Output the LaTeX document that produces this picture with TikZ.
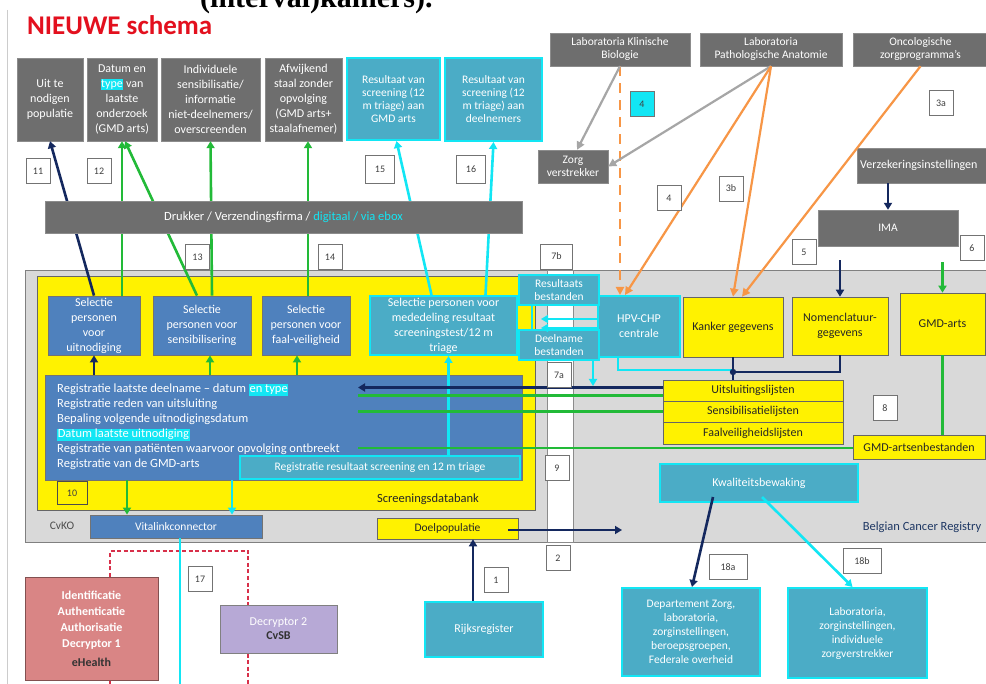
\documentclass[tikz,border=0pt]{standalone}
\usepackage{fontspec}
\setmainfont{Carlito}
\newfontfamily\headserif{Liberation Serif}
\usetikzlibrary{positioning,calc,arrows.meta}

\definecolor{cBoxGray}{HTML}{6E6E6E}
\definecolor{cTeal}{HTML}{4BACC6}
\definecolor{cCyan}{HTML}{12E6F4}
\definecolor{cSelBlue}{HTML}{4F81BD}
\definecolor{cRegBg}{HTML}{D9D9D9}
\definecolor{cNavy}{HTML}{14285E}
\definecolor{cGreen}{HTML}{22BA38}
\definecolor{cOrange}{HTML}{F79646}
\definecolor{cGrayLine}{HTML}{A6A6A6}
\definecolor{cRed}{HTML}{D8304A}
\definecolor{cHealth}{HTML}{D98585}
\definecolor{cDecr}{HTML}{B7A9D6}
\definecolor{cTitle}{HTML}{E3101E}
\definecolor{cBcr}{HTML}{1F3864}

\newcommand\bt{\fontsize{12}{15}\selectfont}
\newcommand\st{\fontsize{11.5}{13}\selectfont}
\newcommand\cyhl[1]{{\fboxsep=0.6pt\colorbox{cCyan}{#1}}}

\tikzset{
  graybox/.style={draw=black!45, fill=cBoxGray, text=white, align=center, font=\bt, inner sep=1pt},
  tealbox/.style={draw=cCyan, line width=2pt, fill=cTeal, text=white, align=center, font=\bt, inner sep=1pt},
  selbox/.style={draw=black!55, line width=0.8pt, fill=cSelBlue, text=white, align=center, font=\bt, inner sep=1pt},
  yelbox/.style={draw=black!60, line width=0.6pt, fill=yellow, text=black!85, align=center, font=\bt, inner sep=1pt},
  numbox/.style={draw=black!55, fill=white, minimum width=24pt, minimum height=25pt, font=\fontsize{10}{12}\selectfont, text=black!75, inner sep=1pt},
  regtext/.style={anchor=base west, text=white, font=\fontsize{12.5}{15}\selectfont, inner sep=0pt},
  navyarr/.style={draw=cNavy, line width=2.6pt, -{Triangle[length=7pt,width=8pt]}},
  navyline/.style={draw=cNavy, line width=2.6pt},
  greenarr/.style={draw=cGreen, line width=2.6pt, -{Triangle[length=7pt,width=8pt]}},
  greenline/.style={draw=cGreen, line width=2.6pt},
  cyanarr/.style={draw=cCyan, line width=2.6pt, -{Triangle[length=7pt,width=8pt]}},
  cyanline/.style={draw=cCyan, line width=2.6pt},
  orangearr/.style={draw=cOrange, line width=2.2pt, -{Triangle[length=8pt,width=8pt]}},
  grayarr/.style={draw=cGrayLine, line width=2.2pt, -{Triangle[length=8pt,width=8pt]}},
  reddash/.style={draw=cRed, line width=1.2pt, dash pattern=on 4pt off 2.5pt},
}

\begin{document}
\begin{tikzpicture}[x=1pt,y=-1pt]
  \useasboundingbox (0,0) rectangle (986,684);
  \fill[white] (0,0) rectangle (986,684);
  \draw[black!20] (7,10) -- (7,684);

  % heading
  \node[anchor=base west, inner sep=0pt, font=\headserif\bfseries\fontsize{30}{32}\selectfont] (cuttext) at (200,8) {(interval)kamers).};
  \node[anchor=base west, inner sep=0pt, font=\bfseries\fontsize{27}{29}\selectfont, text=cTitle] (title) at (27,35) {NIEUWE schema};

  % regions: cancer registry, channel, screening database
  \node[draw=black!50, line width=0.8pt, fill=cRegBg, minimum width=967pt, minimum height=272pt, inner sep=0pt] (bcr) at (508.5,406) {};
  \node[draw=black!45, fill=white, minimum width=26pt, minimum height=272pt, inner sep=0pt] (channel) at (560,406) {};
  \node[draw=black!60, fill=yellow, minimum width=498pt, minimum height=234pt, inner sep=0pt] (sdb) at (286,393) {};
  \node[font=\fontsize{12.5}{14}\selectfont, text=black!85] (sdblabel) at (428,499) {Screeningsdatabank};
  \node[font=\fontsize{11.5}{14}\selectfont, text=black!70] (cvko) at (62,526) {CvKO};
  \node[font=\fontsize{12.5}{14}\selectfont, text=cBcr] (bcrlabel) at (922,527) {Belgian Cancer Registry};

  % top row of outputs
  \node[graybox, minimum width=66pt, minimum height=83pt] (popul) at (50,99.5) {Uit te\\nodigen\\populatie};
  \node[graybox, minimum width=70pt, minimum height=83pt] (datum) at (122,99.5) {Datum en\\\cyhl{type} van\\laatste\\onderzoek\\(GMD arts)};
  \node[graybox, minimum width=99pt, minimum height=83pt] (indiv) at (210.5,99.5) {Individuele\\sensibilisatie/\\informatie\\niet-deelnemers/\\overscreenden};
  \node[graybox, minimum width=77pt, minimum height=83pt] (afwijk) at (303.5,99.5) {Afwijkend\\staal zonder\\opvolging\\(GMD arts+\\staalafnemer)};
  \node[tealbox, font=\st, minimum width=93pt, minimum height=82pt] (resgmd) at (393.5,99) {Resultaat van\\screening (12\\m triage) aan\\GMD arts};
  \node[tealbox, font=\st, minimum width=97pt, minimum height=83pt] (resdeel) at (493.5,99.5) {Resultaat van\\screening (12\\m triage) aan\\deelnemers};

  % data sources
  \node[graybox, font=\st, minimum width=140pt, minimum height=33pt] (labkb) at (620,49.5) {Laboratoria Klinische\\Biologie};
  \node[graybox, font=\st, minimum width=142pt, minimum height=33pt] (labpa) at (771,49.5) {Laboratoria\\Pathologische Anatomie};
  \node[graybox, font=\st, minimum width=135pt, minimum height=33pt] (onco) at (920.5,49.5) {Oncologische\\zorgprogramma's};
  \node[graybox, font=\st, minimum width=70pt, minimum height=33pt] (zorg) at (573,166.5) {Zorg\\verstrekker};
  \node[graybox, minimum width=140pt, minimum height=35pt, text width=134pt, align=left, anchor=west] (verz) at (857,165.5) {Verzekeringsinstellingen};
  \node[graybox, font=\st, minimum width=140pt, minimum height=36pt] (ima) at (888,228) {IMA};

  % selection boxes
  \node[selbox, minimum width=92pt, minimum height=59pt] (seluit) at (94,325.5) {Selectie\\personen\\voor\\uitnodiging};
  \node[selbox, minimum width=98pt, minimum height=59pt] (selsens) at (202,325.5) {Selectie\\personen voor\\sensibilisering};
  \node[selbox, minimum width=88pt, minimum height=59pt] (selfaal) at (306,325.5) {Selectie\\personen voor\\faal-veiligheid};
  \node[tealbox, minimum width=147pt, minimum height=59pt] (selmed) at (443.5,325.5) {Selectie personen voor\\mededeling resultaat\\screeningstest/12 m\\triage};

  % registration block
  \node[selbox, minimum width=477pt, minimum height=105pt] (regbox) at (283.5,427.5) {};
  \node[regtext] (reg0) at (57,393) {Registratie laatste deelname -- datum \cyhl{en type}};
  \node[regtext] (reg1) at (57,408) {Registratie reden van uitsluiting};
  \node[regtext] (reg2) at (57,423) {Bepaling volgende uitnodigingsdatum};
  \node[regtext] (reg3) at (57,438) {\cyhl{Datum laatste uitnodiging}};
  \node[regtext] (reg4) at (57,453) {Registratie van patiënten waarvoor opvolging ontbreekt};
  \node[regtext] (reg5) at (57,468) {Registratie van de GMD-arts};
  \node[tealbox, font=\st, minimum width=280pt, minimum height=23pt] (regres) at (380,467.5) {Registratie resultaat screening en 12 m triage};

  \node[selbox, font=\st, minimum width=172pt, minimum height=23pt] (vital) at (176,526.5) {Vitalinkconnector};
  \node[yelbox, font=\st, minimum width=141pt, minimum height=21pt] (doel) at (447.5,528.5) {Doelpopulatie};

  % files and HPV-CHP
  \node[tealbox, minimum width=82pt, minimum height=61pt] (hpv) at (639,326.5) {HPV-CHP\\centrale};
  \node[tealbox, font=\st, minimum width=80pt, minimum height=30pt] (resbest) at (559,290) {Resultaats\\bestanden};
  \node[tealbox, font=\st, minimum width=80pt, minimum height=30pt] (deeln) at (559,345) {Deelname\\bestanden};

  % registry data
  \node[yelbox, minimum width=100pt, minimum height=60pt] (kanker) at (733,327) {Kanker gegevens};
  \node[yelbox, minimum width=96pt, minimum height=58pt] (nomen) at (840,326) {Nomenclatuur-\\gegevens};
  \node[yelbox, minimum width=85pt, minimum height=62pt] (gmd) at (942.5,324) {GMD-arts};
  \node[yelbox, minimum width=180pt, minimum height=21pt] (uitsl) at (753,390.5) {Uitsluitingslijsten};
  \node[yelbox, minimum width=180pt, minimum height=21pt] (sens) at (753,411.5) {Sensibilisatielijsten};
  \node[yelbox, minimum width=180pt, minimum height=22pt] (faal) at (753,433) {Faalveiligheidslijsten};
  \node[yelbox, minimum width=132pt, minimum height=24pt] (gmdbest) at (919,447) {GMD-artsenbestanden};
  \node[tealbox, minimum width=198pt, minimum height=38pt] (kwal) at (759,483) {Kwaliteitsbewaking};

  % bottom row
  \node[draw=black!40!cHealth, line width=1pt, fill=cHealth, text=white, align=center, font=\bfseries\fontsize{12}{16}\selectfont, minimum width=133pt, minimum height=103pt] (ehealth) at (91.5,628.5) {Identificatie\\Authenticatie\\Authorisatie\\Decryptor 1\\[3pt]\textcolor{black!80}{eHealth}};
  \node[draw=black!50, line width=1pt, fill=cDecr, text=white, align=center, font=\fontsize{12}{14}\selectfont, minimum width=117pt, minimum height=48pt] (decr) at (278.5,629) {Decryptor 2\\\textcolor{black!80}{\bfseries CvSB}};
  \node[tealbox, minimum width=118pt, minimum height=55pt] (rijks) at (484,629.5) {Rijksregister};
  \node[tealbox, font=\fontsize{11.5}{14}\selectfont, minimum width=138pt, minimum height=88pt] (dept) at (691,632) {Departement Zorg,\\laboratoria,\\zorginstellingen,\\beroepsgroepen,\\Federale overheid};
  \node[tealbox, font=\fontsize{11.5}{14}\selectfont, minimum width=139pt, minimum height=90pt] (labz) at (857.5,633) {Laboratoria,\\zorginstellingen,\\individuele\\zorgverstrekker};

  % links from the selection boxes to the top row (behind the printer bar)
  \draw[navyarr] (seluit.north) -- (popul.south);
  \draw[greenarr] ([xshift=28pt]seluit.north) -- (datum.south);
  \draw[greenarr] ([xshift=-5pt]selsens.north) -- ([xshift=3pt]datum.south);
  \draw[greenarr] ([xshift=10pt]selsens.north) -- (indiv.south);
  \draw[greenarr] ([xshift=2pt]selfaal.north) -- ([xshift=2pt]selfaal.north |- afwijk.south);
  \draw[cyanarr] ([xshift=-12pt]selmed.north) -- ([xshift=3pt]resgmd.south);
  \draw[cyanarr] ([xshift=42pt]selmed.north) -- (resdeel.south);

  \node[graybox, minimum width=477pt, minimum height=32pt, font=\fontsize{12.5}{15}\selectfont] (drukker) at (283.5,217) {Drukker / Verzendingsfirma / \textcolor{cCyan}{digitaal / via ebox}};

  % registration to selection
  \draw[navyarr] (seluit.south |- regbox.north) -- (seluit.south);
  \draw[greenarr] ([xshift=8pt]selsens.south |- regbox.north) -- ([xshift=8pt]selsens.south);
  \draw[greenarr] ([xshift=-9pt]selfaal.south |- regbox.north) -- ([xshift=-9pt]selfaal.south);
  \draw[cyanarr] ([xshift=5pt]selmed.south |- regres.north) -- ([xshift=5pt]selmed.south);
  \draw[greenarr] ([xshift=-49pt]vital.north |- regbox.south) -- ([xshift=-49pt]vital.north);
  \draw[cyanarr] ([xshift=56pt]vital.north |- regbox.south) -- ([xshift=56pt]vital.north);

  % lists into the registration
  \coordinate (regx) at (358,0);
  \draw[navyarr] ([yshift=3pt]uitsl.west) -- ([yshift=3pt]uitsl.west -| regx);
  \draw[greenline] ([yshift=-5pt]uitsl.west) -- ([yshift=-5pt]uitsl.west -| regx);
  \draw[greenline] (sens.west) -- (sens.west -| regx);
  \draw[greenline] ([yshift=-1pt]gmdbest.west) -- ([yshift=-1pt]gmdbest.west -| regx);
  \draw[greenline] (gmd.south) -- (gmd.south |- gmdbest.north);

  % insurers and IMA
  \draw[navyarr] (verz.south -| ima.north) -- (ima.north);
  \draw[navyarr, shorten <=14pt] (ima.south -| nomen.north) -- (nomen.north);
  \draw[greenarr, shorten <=16pt] (ima.south -| gmd.north) -- (gmd.north);

  % laboratories
  \draw[orangearr, dash pattern=on 10pt off 7pt] (labkb.south) -- (labkb.south |- hpv.north);
  \draw[grayarr] (labkb.south) -- ([xshift=4pt]zorg.north);
  \draw[grayarr] (labpa.south) -- (zorg.east);
  \draw[orangearr] (labpa.south) -- ([xshift=-14pt]hpv.north);
  \draw[orangearr] (labpa.south) -- (kanker.north);
  \draw[orangearr] (onco.south) -- ([xshift=9pt]kanker.north);

  % files, HPV-CHP and registry data
  \draw[cyanline] ([xshift=-27pt]resbest.south) -- ([xshift=-27pt]deeln.north);
  \coordinate (chanA) at (541,319);
  \coordinate (chanB) at (541,328);
  \draw[cyanarr, line width=1.6pt] (hpv.west |- chanA) -- (chanA);
  \draw[cyanarr, line width=1.6pt] (hpv.west |- chanB) -- (chanB);
  \coordinate (deelout) at (593,386);
  \draw[cyanarr] (deelout |- deeln.south) -- (deelout);
  \coordinate (kjoin) at (733,372);
  \draw[cyanline] ([xshift=-21pt]hpv.south) |- ([yshift=2pt]kjoin);
  \draw[navyline] (nomen.south) |- (kjoin);
  \draw[navyline] (kanker.south) -- (kjoin) -- (kjoin |- uitsl.north);
  \fill[cNavy] (kjoin) circle (3.2pt);

  % target population
  \draw[navyarr] ([xshift=-11pt]rijks.north) -- ([xshift=-11pt]rijks.north |- doel.south);
  \coordinate (doelout) at (622,530);
  \draw[navyarr] ([xshift=-10pt]doel.east |- doelout) -- (doelout);

  % quality monitoring
  \draw[navyarr] ([xshift=-46pt,yshift=6pt]kwal.south) -- ([xshift=1pt]dept.north);
  \draw[cyanarr] ([xshift=3pt,yshift=6pt]kwal.south) -- ([xshift=-5pt]labz.north);

  % decryption links
  \coordinate (redL) at (110,551);
  \coordinate (redR) at (248,551);
  \draw[reddash] (redL |- ehealth.north) -- (redL) -- (redR) -- (redR |- decr.north);
  \coordinate (redout) at (248,690);
  \draw[reddash] (redout |- decr.south) -- (redout);
  \coordinate (redout2) at (110,690);
  \draw[reddash] (redout2 |- ehealth.south) -- (redout2);
  \coordinate (vitout) at (180,690);
  \draw[cyanline] (vitout |- vital.south) -- (vitout);

  % step numbers
  \foreach \lab/\px/\py in {11/38/171, 12/99/171, 3a/941/103, 4/669/198, 3b/731/188.5, 5/804/252, 6/972/248, 13/197.5/257, 14/330/257, 7a/559/375, 8/885/408, 9/557/468, 2/558/558, 1/496/580, 17/200/579}
    \node[numbox] (n\lab) at (\px,\py) {\lab};
  \node[numbox, minimum width=29pt, minimum height=28pt] (n15) at (380,169) {15};
  \node[numbox, minimum width=29pt, minimum height=28pt] (n16) at (471,169) {16};
  \node[numbox, minimum width=32pt] (n7b) at (556.5,256.5) {7b};
  \node[numbox, fill=cCyan] (n4c) at (642,104) {4};
  \node[numbox, minimum width=38pt] (n18a) at (728,567) {18a};
  \node[numbox, minimum width=38pt] (n18b) at (862,561) {18b};
  \node[numbox, fill=yellow, draw=black!70, minimum width=30pt, minimum height=23pt] (n10) at (72,493) {10};
\end{tikzpicture}
\end{document}
